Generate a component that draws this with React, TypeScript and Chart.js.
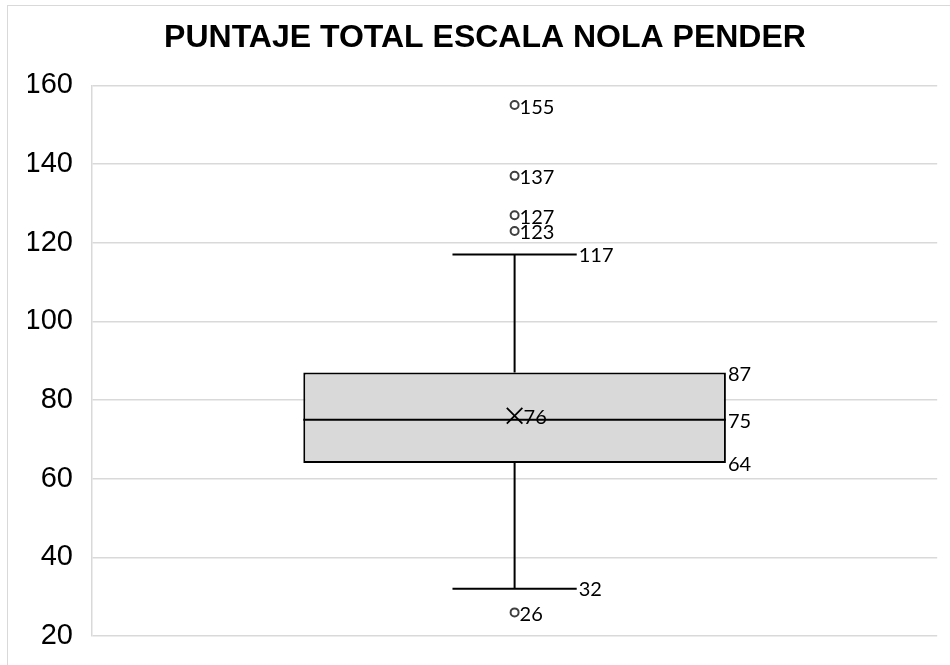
import React, { useEffect, useRef } from "react";
import { Chart, registerables } from "chart.js";

Chart.register(...registerables);

const titleText = "PUNTAJE TOTAL ESCALA NOLA PENDER";
const categories = ["Puntaje total"];
const q1Values = [64];
const medianValues = [75];
const q3Values = [87];
const whiskerLowValues = [32];
const whiskerHighValues = [117];
const meanValues = [76];
const outlierValues = [26, 123, 127, 137, 155];
const yMin = 20;
const yMax = 160;
const yStep = 20;

const labelFont = "20px Lato, 'Open Sans', sans-serif";

const boxPlotPlugin = {
  id: "boxPlotExtras",
  afterDatasetsDraw(chart: any) {
    const ctx = chart.ctx;
    const yScale = chart.scales.y;
    const meta = chart.getDatasetMeta(0);
    ctx.save();
    meta.data.forEach((bar: any, i: number) => {
      const props = bar.getProps(["x", "width"], true);
      const cx = props.x;
      const half = props.width / 2;
      const left = cx - half;
      const right = cx + half;
      const capHalf = props.width * 0.147;
      const yMed = yScale.getPixelForValue(medianValues[i]);
      const yQ1 = yScale.getPixelForValue(q1Values[i]);
      const yQ3 = yScale.getPixelForValue(q3Values[i]);
      const yLo = yScale.getPixelForValue(whiskerLowValues[i]);
      const yHi = yScale.getPixelForValue(whiskerHighValues[i]);
      ctx.strokeStyle = "#000000";
      ctx.lineWidth = 2;
      ctx.beginPath();
      // median
      ctx.moveTo(left, yMed);
      ctx.lineTo(right, yMed);
      // upper whisker
      ctx.moveTo(cx, yQ3);
      ctx.lineTo(cx, yHi);
      ctx.moveTo(cx - capHalf, yHi);
      ctx.lineTo(cx + capHalf, yHi);
      // lower whisker
      ctx.moveTo(cx, yQ1);
      ctx.lineTo(cx, yLo);
      ctx.moveTo(cx - capHalf, yLo);
      ctx.lineTo(cx + capHalf, yLo);
      ctx.stroke();

      ctx.fillStyle = "#000000";
      ctx.font = labelFont;
      ctx.textAlign = "left";
      ctx.textBaseline = "middle";
      ctx.fillText(String(whiskerHighValues[i]), cx + capHalf + 2, yHi + 1);
      ctx.fillText(String(whiskerLowValues[i]), cx + capHalf + 2, yLo + 1);
      ctx.fillText(String(q3Values[i]), right + 2, yQ3 + 2);
      ctx.fillText(String(medianValues[i]), right + 2, yMed + 2);
      ctx.fillText(String(q1Values[i]), right + 2, yQ1 + 2);
      const yMean = yScale.getPixelForValue(meanValues[i]);
      ctx.fillText(String(meanValues[i]), cx + 9, yMean + 2);
      outlierValues.forEach((v) => {
        ctx.fillText(String(v), cx + 5, yScale.getPixelForValue(v) + 2);
      });
    });
    ctx.restore();
  },
};

function BoxChart() {
  const canvasRef = useRef<HTMLCanvasElement | null>(null);
  useEffect(() => {
    if (!canvasRef.current) return;
    const chart = new Chart(canvasRef.current, {
      type: "bar",
      data: {
        labels: categories,
        datasets: [
          {
            type: "bar",
            order: 2,
            data: categories.map((_, i) => [q1Values[i], q3Values[i]]) as any,
            backgroundColor: "#d9d9d9",
            borderColor: "#000000",
            borderWidth: 2,
            borderSkipped: false,
            barPercentage: 0.5,
            categoryPercentage: 1,
          } as any,
          {
            type: "line",
            order: 0,
            data: outlierValues.map((v) => ({ x: categories[0], y: v })) as any,
            showLine: false,
            pointStyle: "circle",
            pointRadius: 4,
            pointBorderWidth: 2,
            pointBorderColor: "#404040",
            pointBackgroundColor: "#ffffff",
          } as any,
          {
            type: "line",
            order: 0,
            data: meanValues.map((v, i) => ({ x: categories[i], y: v })) as any,
            showLine: false,
            pointStyle: "crossRot",
            pointRadius: 11,
            pointBorderWidth: 1.8,
            pointBorderColor: "#000000",
          } as any,
        ],
      },
      options: {
        animation: false,
        responsive: false,
        maintainAspectRatio: false,
        layout: { padding: { left: 28, right: 8, top: 0, bottom: 29 } },
        plugins: {
          legend: { display: false },
          tooltip: { enabled: false },
          title: {
            display: true,
            text: titleText,
            color: "#000000",
            font: { family: "'Liberation Sans', Arial, sans-serif", size: 32, weight: "bold", lineHeight: 1.2 },
            padding: { top: 19, bottom: 28 },
          },
        },
        scales: {
          x: { display: false, offset: true },
          y: {
            min: yMin,
            max: yMax,
            afterFit(scale: any) {
              scale.width = 64;
              scale.paddingTop = 0;
              scale.paddingBottom = 0;
            },
            ticks: {
              stepSize: yStep,
              color: "#000000",
              padding: 19,
              font: { family: "'Liberation Sans', Arial, sans-serif", size: 29 },
            },
            grid: { color: "#d9d9d9", lineWidth: 1.5, drawTicks: false },
            border: { display: true, color: "#d9d9d9", width: 1.5 },
          },
        },
      },
      plugins: [boxPlotPlugin],
    });
    return () => chart.destroy();
  }, []);
  return <canvas ref={canvasRef} width={950} height={665} style={{ display: "block" }} />;
}

export default function App() {
  return (
    <div
      style={{
        position: "fixed",
        left: 0,
        top: 0,
        width: 950,
        height: 665,
        overflow: "hidden",
        background: "#ffffff",
      }}
    >
      <div
        style={{
          position: "absolute",
          left: 7,
          top: 5,
          width: 1000,
          height: 700,
          border: "1px solid #d9d9d9",
        }}
      />
      <div style={{ position: "absolute", left: 0, top: 0 }}>
        <BoxChart />
      </div>
    </div>
  );
}
